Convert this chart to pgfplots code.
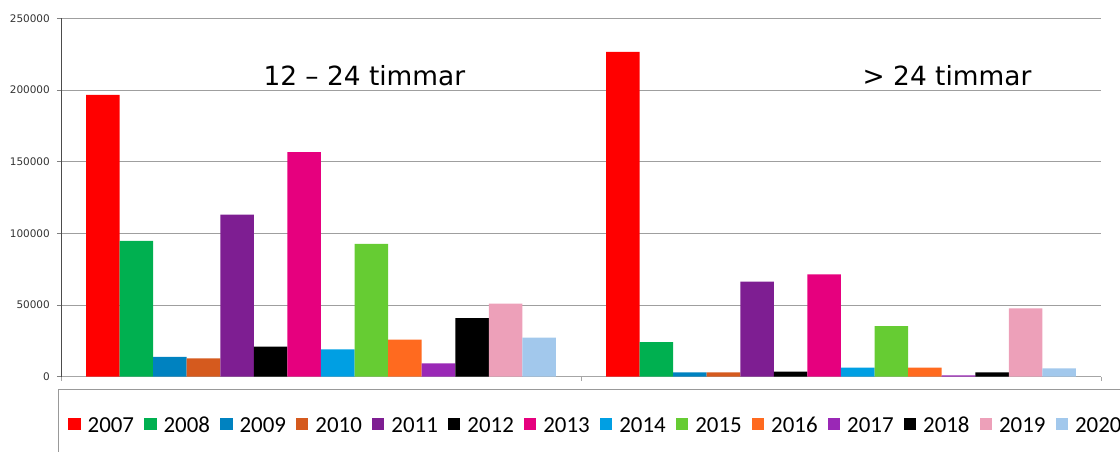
\documentclass[border=0pt]{standalone}
\usepackage{fontspec}
\setmainfont{DejaVu Sans}
\newfontfamily\legfont{Carlito}
\usepackage{pgfplots}
\pgfplotsset{compat=1.18}
\definecolor{c07}{HTML}{FF0000}
\definecolor{c08}{HTML}{00B050}
\definecolor{c09}{HTML}{0082C0}
\definecolor{c10}{HTML}{D55A1E}
\definecolor{c11}{HTML}{7E1E92}
\definecolor{c12}{HTML}{000000}
\definecolor{c13}{HTML}{E6007E}
\definecolor{c14}{HTML}{009FE3}
\definecolor{c15}{HTML}{66CC33}
\definecolor{c16}{HTML}{FF6A1F}
\definecolor{c17}{HTML}{9A28B6}
\definecolor{c18}{HTML}{000000}
\definecolor{c19}{HTML}{EDA0B9}
\definecolor{c20}{HTML}{A2C8EC}
\definecolor{tickgray}{HTML}{333333}
\pgfplotsset{bl/.style={fill=#1, draw=none,
  legend image code/.code={\path[fill=#1] (0bp,-4.5bp) rectangle (12.5bp,8bp);}}}
\begin{document}
\begin{tikzpicture}
\useasboundingbox (0,0) rectangle (1120bp,452bp);
\begin{axis}[
  at={(61bp,75.3bp)}, anchor=south west,
  scale only axis, width=1040bp, height=358.4bp,
  ybar=0pt, bar width=33.57bp,
  xmin=-0.5, xmax=1.5, ymin=0, ymax=250000,
  xtick={-0.5,0.5,1.5}, xticklabels={},
  ytick={0,50000,100000,150000,200000,250000},
  scaled y ticks=false,
  tick align=outside, major tick length=4bp,
  xtick style={draw=gray!70, line width=0.75bp},
  ytick style={draw=gray, line width=0.75bp},
  yticklabel style={font=\fontsize{10.5}{12}\selectfont, text=tickgray,
    /pgf/number format/fixed, /pgf/number format/1000 sep={},
    /pgf/number format/assume math mode=true, inner xsep=0pt, xshift=-7bp},
  ymajorgrids, major grid style={draw=gray!75, line width=0.9bp},
  axis lines*=left,
  x axis line style={draw=gray!70, line width=1bp},
  y axis line style={draw=black!70, line width=1bp},
  legend columns=14,
  legend style={at={(-0.0029,-0.0352)}, anchor=north west,
    draw=gray!80, line width=0.9bp,
    inner xsep=9.7bp, inner ysep=27.2bp,
    font=\legfont\fontsize{23}{27}\selectfont,
    nodes={inner sep=0pt},
    column sep=7bp,
    /tikz/every even column/.append style={column sep=10bp}},
]
\addplot[bl=c07] coordinates {(0,196600) (1,226600)};
\addplot[bl=c08] coordinates {(0,94800) (1,24200)};
\addplot[bl=c09] coordinates {(0,13900) (1,3000)};
\addplot[bl=c10] coordinates {(0,12800) (1,3000)};
\addplot[bl=c11] coordinates {(0,113000) (1,66300)};
\addplot[bl=c12] coordinates {(0,20900) (1,3500)};
\addplot[bl=c13] coordinates {(0,156600) (1,71400)};
\addplot[bl=c14] coordinates {(0,19000) (1,6300)};
\addplot[bl=c15] coordinates {(0,92700) (1,35300)};
\addplot[bl=c16] coordinates {(0,25800) (1,6300)};
\addplot[bl=c17] coordinates {(0,9300) (1,1000)};
\addplot[bl=c18] coordinates {(0,40900) (1,3100)};
\addplot[bl=c19] coordinates {(0,50900) (1,47700)};
\addplot[bl=c20] coordinates {(0,27200) (1,5800)};
\legend{2007,2008,2009,2010,2011,2012,2013,2014,2015,2016,2017,2018,2019,2020}
\node[anchor=base, inner sep=0pt, font=\fontsize{26.5}{30}\selectfont] at (axis cs:0.0834,203400) {12 – 24 timmar};
\node[anchor=base, inner sep=0pt, font=\fontsize{26.5}{30}\selectfont] at (axis cs:1.204,203400) {> 24 timmar};
\end{axis}
\end{tikzpicture}
\end{document}
